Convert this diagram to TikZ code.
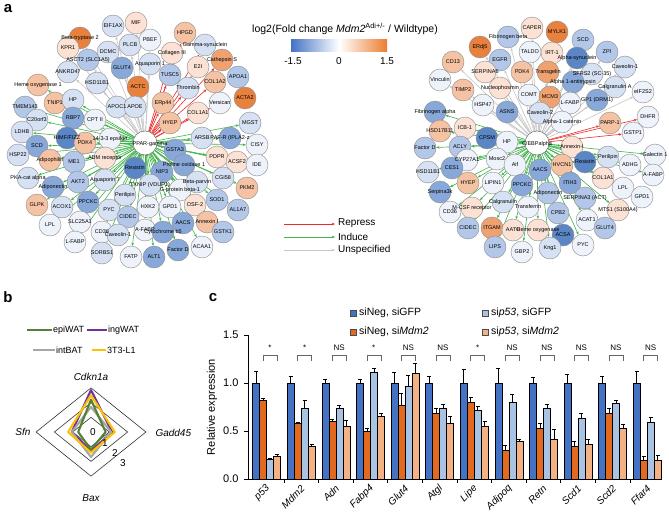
\documentclass[tikz,border=0pt]{standalone}
\usepackage{fontspec}
\setmainfont{Liberation Sans}
\usetikzlibrary{arrows.meta}
\pgfdeclarelayer{bg}
\pgfdeclarelayer{fg}
\pgfsetlayers{bg,main,fg}
\definecolor{nb3}{HTML}{5A86C5}
\definecolor{nb2}{HTML}{87A8D8}
\definecolor{nb1}{HTML}{B3C8E8}
\definecolor{nb0}{HTML}{D6E2F3}
\definecolor{nw}{HTML}{EEF2FA}
\definecolor{no0}{HTML}{FBE2D4}
\definecolor{no1}{HTML}{F5C3A3}
\definecolor{no2}{HTML}{EFA270}
\definecolor{no3}{HTML}{E9813E}
\definecolor{ered}{HTML}{EE2A2A}
\definecolor{egrn}{HTML}{3DB54A}
\definecolor{egry}{HTML}{C6C6C6}
\definecolor{cbB}{HTML}{4472C4}
\definecolor{cbO}{HTML}{ED7D31}
\definecolor{barB}{HTML}{4472C4}
\definecolor{barO}{HTML}{E3691E}
\definecolor{barLB}{HTML}{A9C3E5}
\definecolor{barLO}{HTML}{F4B183}
\definecolor{rgreen}{HTML}{548235}
\definecolor{rpurple}{HTML}{7030A0}
\definecolor{rgray}{HTML}{A6A6A6}
\definecolor{ryellow}{HTML}{FFC000}
\tikzset{
  cn/.style={circle,draw=black!45,line width=0.4pt,minimum size=22pt,inner sep=0pt},
  hubnode/.style={circle,draw=black!60,line width=0.5pt,fill=white,minimum size=24pt,inner sep=0pt},
  lab/.style={font=\fontsize{5.5}{6}\selectfont,inner sep=0pt},
  ed/.style={line width=0.6pt,-{Stealth[length=3.2pt,width=2.6pt]}},
  legtxt/.style={font=\fontsize{10}{11}\selectfont,anchor=west,inner sep=0pt},
  ring/.style={draw=black!80,line width=0.6pt},
  series/.style={line width=2.1pt,line join=round},
  panel/.style={font=\fontsize{15}{15}\selectfont\bfseries,inner sep=0pt}
}
\newcommand{\netnode}[5]{\node[cn,fill=#4] (#1) at (#2,#3) {};
  \begin{pgfonlayer}{fg}\node[lab] at (#2,#3) {#5};\end{pgfonlayer}}
\newcommand{\mybar}[4]{\filldraw[fill=#4,draw=black,line width=0.35pt] (#1-3.5,479) rectangle (#1+3.5,479-96*#2);
  \draw[line width=0.5pt] (#1,479-96*#2) -- (#1,479-96*#3) (#1-2,479-96*#3) -- (#1+2,479-96*#3);}
\begin{document}
\begin{tikzpicture}[x=1pt,y=-1pt]
\begin{pgfonlayer}{bg}
\fill[white] (0,0) rectangle (669,519);
\end{pgfonlayer}
\path[use as bounding box] (0,0) rectangle (669,519);
% ---------- panel labels
\node[panel] at (8,9) {a};
\node[panel] at (8,297) {b};
\node[panel] at (213,298) {c};
% ---------- colour bar
\node[font=\fontsize{10.5}{12}\selectfont] at (345,29) {log2(Fold change \textit{Mdm2}\textsuperscript{Adi+/-} / Wildtype)};
\shade[left color=cbB,right color=white] (291,40) rectangle (339,52);
\shade[left color=white,right color=cbO] (339,40) rectangle (387,52);
\node[font=\fontsize{10}{11}\selectfont] at (293,61) {-1.5};
\node[font=\fontsize{10}{11}\selectfont] at (339,61) {0};
\node[font=\fontsize{10}{11}\selectfont] at (387,61) {1.5};
% ---------- network legend
\coordinate (lg1a) at (284,224); \coordinate (lg1b) at (335,224);
\coordinate (lg2a) at (284,237); \coordinate (lg2b) at (335,237);
\coordinate (lg3a) at (284,250); \coordinate (lg3b) at (335,250);
\draw[ed,ered,line width=1pt] (lg1a) -- (lg1b);
\draw[ed,egrn,line width=1pt] (lg2a) -- (lg2b);
\draw[ed,egry,line width=1pt] (lg3a) -- (lg3b);
\node[legtxt] at (338,223) {Repress};
\node[legtxt] at (338,237) {Induce};
\node[legtxt] at (338,250) {Unspecified};
% ---------- left network
\node[hubnode] (hl) at (145,143) {};
\begin{pgfonlayer}{fg}\node[lab] at (150,144) {PPAR-gamma};\end{pgfonlayer}
\netnode{l1}{113}{26}{nb0}{EIF1AX}
\netnode{l2}{136}{23}{no0}{MIF}
\netnode{l3}{80}{38}{no3}{Beta-tryptase 2}
\netnode{l4}{68}{48}{no0}{KPR1}
\netnode{l5}{130}{45}{nb0}{PLCB}
\netnode{l6}{150}{40}{nw}{PBEF}
\netnode{l7}{108}{52}{nb0}{DCMC}
\netnode{l8}{88}{60}{nb1}{ASCT2 (SLC1A5)}
\netnode{l9}{122}{68}{nb2}{GLUT4}
\netnode{l10}{150}{64}{nb0}{Aquaporin 1}
\netnode{l11}{68}{72}{nb0}{ANKRD47}
\netnode{l12}{97}{83}{nb0}{HSD11B1}
\netnode{l13}{138}{87}{no3}{ACTC}
\netnode{l14}{117}{107}{nb0}{APOC1}
\netnode{l15}{135}{107}{nb0}{APOE}
\netnode{l16}{185}{33}{no1}{HPGD}
\netnode{l17}{205}{45}{nb0}{Gamma-synuclein}
\netnode{l18}{172}{53}{no0}{Collagen III}
\netnode{l19}{198}{67}{no0}{E2I}
\netnode{l20}{222}{60}{no2}{Cathepsin S}
\netnode{l21}{170}{75}{nb1}{TUSC5}
\netnode{l22}{215}{82}{no1}{COL1A2}
\netnode{l23}{188}{88}{nb0}{Thrombin}
\netnode{l24}{163}{103}{no1}{ERp44}
\netnode{l25}{220}{103}{nw}{Versican}
\netnode{l26}{198}{113}{no0}{COL1A1}
\netnode{l27}{170}{123}{no1}{HYEP}
\netnode{l28}{238}{77}{nb1}{APOA1}
\netnode{l29}{245}{98}{no3}{ACTA2}
\netnode{l30}{38}{85}{no1}{Heme oxygenase 1}
\netnode{l31}{25}{107}{nb1}{TMEM143}
\netnode{l32}{55}{103}{no1}{TNIP1}
\netnode{l33}{73}{100}{nb0}{HP}
\netnode{l34}{37}{120}{nb0}{C20orf3}
\netnode{l35}{73}{118}{nb2}{RBP7}
\netnode{l36}{95}{120}{nw}{CPT II}
\netnode{l37}{22}{132}{nb0}{LDHB}
\netnode{l38}{67}{138}{nb3}{HIMF/FIZZ}
\netnode{l39}{37}{146}{nb2}{SCD}
\netnode{l40}{85}{143}{no1}{PDK4}
\netnode{l41}{110}{139}{nw}{14-3-3 epsilon}
\netnode{l42}{18}{155}{nb0}{HSP22}
\netnode{l43}{50}{160}{no1}{Adipophilin}
\netnode{l44}{74}{162}{nb1}{ME1}
\netnode{l45}{105}{158}{no0}{ADM receptor}
\netnode{l46}{135}{168}{nb3}{Resistin}
\netnode{l47}{162}{172}{nb2}{NIP3}
\netnode{l48}{28}{178}{nb0}{PKA-cat alpha}
\netnode{l49}{53}{187}{nb2}{Adiponectin}
\netnode{l50}{78}{182}{nb1}{AKT2}
\netnode{l51}{105}{180}{nb0}{Aquaporin 7}
\netnode{l52}{150}{185}{nb0}{TXNIP (VDUP1)}
\netnode{l53}{180}{190}{nw}{G-protein beta-1}
\netnode{l54}{37}{205}{no1}{GLPK}
\netnode{l55}{62}{207}{nb0}{ACOX1}
\netnode{l56}{88}{202}{nb2}{PPCKC}
\netnode{l57}{125}{195}{nb0}{Perilipin}
\netnode{l58}{109}{210}{nb0}{PYC}
\netnode{l59}{128}{217}{nb1}{CIDEC}
\netnode{l60}{148}{207}{nw}{HXK2}
\netnode{l61}{170}{207}{nw}{GPD1}
\netnode{l62}{50}{225}{nw}{LPL}
\netnode{l63}{80}{222}{nw}{SLC25A1}
\netnode{l64}{102}{232}{nw}{CD36}
\netnode{l65}{118}{235}{nb0}{Caveolin-1}
\netnode{l66}{145}{230}{nw}{A-FABP}
\netnode{l67}{163}{232}{nb2}{Cytochrome b5}
\netnode{l68}{75}{242}{nw}{L-FABP}
\netnode{l69}{102}{253}{nb0}{SORBS1}
\netnode{l70}{131}{257}{nw}{FATP}
\netnode{l71}{154}{257}{nb2}{ALT1}
\netnode{l72}{178}{250}{nb2}{Factor D}
\netnode{l73}{202}{247}{nw}{ACAA1}
\netnode{l74}{250}{123}{nb0}{MGST}
\netnode{l75}{202}{138}{nb0}{ARSB}
\netnode{l76}{230}{138}{nb2}{PAF-R (IPLA2-z}
\netnode{l77}{257}{145}{nw}{CISY}
\netnode{l78}{175}{150}{nb2}{GSTA3}
\netnode{l79}{217}{157}{no0}{PDPR}
\netnode{l80}{237}{162}{no0}{ACSF2}
\netnode{l81}{257}{165}{nw}{IDE}
\netnode{l82}{184}{165}{nb2}{Proline oxidase 1}
\netnode{l83}{223}{178}{nb0}{CGI58}
\netnode{l84}{197}{182}{nb0}{Beta-parvin}
\netnode{l85}{247}{188}{no1}{PKM2}
\netnode{l86}{217}{200}{nb1}{SOD1}
\netnode{l87}{195}{205}{no0}{OSF-2}
\netnode{l88}{238}{210}{nb1}{AL1A7}
\netnode{l89}{183}{223}{nb2}{AACS}
\netnode{l90}{207}{222}{no1}{Annexin I}
\netnode{l91}{223}{232}{nb1}{GSTK1}
% ---------- right network
\node[hubnode] (hr) at (537,143) {};
\begin{pgfonlayer}{fg}\node[lab] at (537,144) {C/EBPalpha};\end{pgfonlayer}
\netnode{r1}{532}{28}{no0}{CAPER}
\netnode{r2}{557}{32}{no3}{MYLK1}
\netnode{r3}{508}{37}{nb1}{Fibrinogen beta}
\netnode{r4}{480}{47}{no3}{ERdj5}
\netnode{r5}{583}{40}{nb1}{SCD}
\netnode{r6}{530}{52}{nw}{TALDO}
\netnode{r7}{552}{53}{no0}{IRT-1}
\netnode{r8}{607}{52}{nb1}{ZPI}
\netnode{r9}{500}{60}{nb1}{EGFR}
\netnode{r10}{577}{58}{nb3}{Alpha-synuclein}
\netnode{r11}{453}{62}{no1}{CD13}
\netnode{r12}{625}{67}{nb0}{Caveolin-1}
\netnode{r13}{485}{72}{no0}{SERPINA6}
\netnode{r14}{522}{72}{no1}{PDK4}
\netnode{r15}{548}{72}{no2}{Transgelin}
\netnode{r16}{592}{74}{nb0}{SFRS2 (SC-35)}
\netnode{r17}{440}{80}{nw}{Vinculin}
\netnode{r18}{573}{82}{nb2}{Alpha 1-antitrypsin}
\netnode{r19}{615}{87}{nb0}{Calgranulin A}
\netnode{r20}{463}{90}{no1}{TIMP2}
\netnode{r21}{500}{88}{no0}{Nucleophosmin}
\netnode{r22}{529}{95}{nw}{COMT}
\netnode{r23}{550}{97}{no2}{MCM3}
\netnode{r24}{643}{92}{nw}{eIF2S2}
\netnode{r25}{483}{105}{nw}{HSP47}
\netnode{r26}{570}{103}{nw}{L-FABP}
\netnode{r27}{597}{100}{nb2}{GP1 (DRM1)}
\netnode{r28}{507}{112}{nb2}{ASNS}
\netnode{r29}{540}{113}{nb0}{Caveolin-2}
\netnode{r30}{562}{122}{nw}{Alpha-1 catenin}
\netnode{r31}{610}{123}{no1}{PARP-1}
\netnode{r32}{648}{117}{nw}{DHFR}
\netnode{r33}{633}{133}{nw}{GSTP1}
\netnode{r34}{435}{112}{nb2}{Fibrinogen alpha}
\netnode{r35}{440}{131}{no1}{HSD17B11}
\netnode{r36}{465}{128}{no0}{ICB-1}
\netnode{r37}{487}{138}{nb3}{CPSM}
\netnode{r38}{507}{142}{nw}{HP}
\netnode{r39}{572}{147}{no0}{Annexin-I}
\netnode{r40}{425}{148}{nb1}{Factor D}
\netnode{r41}{460}{147}{nb1}{ACLY}
\netnode{r42}{467}{160}{nw}{CYP27A1}
\netnode{r43}{497}{159}{nw}{Mosc2}
\netnode{r44}{608}{157}{nb0}{Perilipin}
\netnode{r45}{655}{155}{nw}{Galectin 1}
\netnode{r46}{585}{162}{nb3}{Resistin}
\netnode{r47}{562}{165}{no1}{HVCN1}
\netnode{r48}{428}{172}{nb0}{HSD11B1}
\netnode{r49}{452}{168}{nb2}{CES1}
\netnode{r50}{515}{165}{nw}{Aif}
\netnode{r51}{540}{170}{nb2}{AACS}
\netnode{r52}{630}{165}{nw}{ADHG}
\netnode{r53}{653}{175}{nw}{A-FABP}
\netnode{r54}{440}{192}{nb2}{Serpina3k}
\netnode{r55}{468}{183}{no1}{HYEP}
\netnode{r56}{493}{183}{nw}{LIPIN1}
\netnode{r57}{522}{185}{nb2}{PPCKC}
\netnode{r58}{548}{193}{nb1}{Adiponectin}
\netnode{r59}{570}{183}{nb2}{ITIH3}
\netnode{r60}{603}{178}{no0}{COL1A1}
\netnode{r61}{623}{188}{nw}{LPL}
\netnode{r62}{585}{198}{nb1}{SERPINA3 (ACT)}
\netnode{r63}{642}{197}{nw}{GPD1}
\netnode{r64}{450}{212}{nw}{CD36}
\netnode{r65}{472}{208}{no0}{M-CSF receptor}
\netnode{r66}{503}{202}{nb0}{Calgranulin}
\netnode{r67}{528}{207}{nw}{Transferrin}
\netnode{r68}{558}{213}{nb1}{CPB2}
\netnode{r69}{618}{210}{no0}{MTS1 (S100A4)}
\netnode{r70}{587}{220}{nw}{ACAT1}
\netnode{r71}{468}{228}{nb1}{CIDEC}
\netnode{r72}{492}{228}{no2}{ITGAM}
\netnode{r73}{513}{230}{no0}{AATC}
\netnode{r74}{538}{230}{no0}{Heme oxygenase}
\netnode{r75}{605}{228}{nb1}{GLUT4}
\netnode{r76}{563}{235}{nb3}{ACSA}
\netnode{r77}{583}{245}{nw}{PYC}
\netnode{r78}{495}{247}{nb1}{LIPS}
\netnode{r79}{522}{252}{nw}{GBP2}
\netnode{r80}{550}{248}{nb0}{Kng1}
% ---------- network edges
\begin{pgfonlayer}{bg}
\foreach \i in {1,...,15} \draw[ed,egry] (hl) -- (l\i);
\foreach \i in {16,...,27} \draw[ed,ered] (hl) -- (l\i);
\foreach \i in {30,...,91} \draw[ed,egrn] (hl) -- (l\i);
\foreach \i in {1,...,30} \draw[ed,egry] (hr) -- (r\i);
\foreach \i in {31,32,33} \draw[ed,ered] (hr) -- (r\i);
\foreach \i in {34,...,80} \draw[ed,egrn] (hr) -- (r\i);
\end{pgfonlayer}
% ---------- panel b legend
\coordinate (bl1a) at (27,330); \coordinate (bl1b) at (52,330);
\coordinate (bl2a) at (87,330); \coordinate (bl2b) at (107,330);
\coordinate (bl3a) at (33,350); \coordinate (bl3b) at (55,350);
\coordinate (bl4a) at (92,350); \coordinate (bl4b) at (106,350);
\draw[rgreen,line width=2.2pt] (bl1a) -- (bl1b);
\draw[rpurple,line width=2.2pt] (bl2a) -- (bl2b);
\draw[rgray,line width=2.2pt] (bl3a) -- (bl3b);
\draw[ryellow,line width=2.2pt] (bl4a) -- (bl4b);
\node[legtxt,font=\fontsize{9}{10}\selectfont] at (53,330) {epiWAT};
\node[legtxt,font=\fontsize{9}{10}\selectfont] at (108,330) {ingWAT};
\node[legtxt,font=\fontsize{9}{10}\selectfont] at (56,350) {intBAT};
\node[legtxt,font=\fontsize{9}{10}\selectfont] at (107,350) {3T3-L1};
% ---------- radar
\foreach \k in {1,2,3}
  \draw[ring] (91,432-14.7*\k) -- (91+18.3*\k,432) -- (91,432+14.7*\k) -- (91-18.3*\k,432) -- cycle;
\draw[series,rpurple] (91,432-14.7*2.85) -- (91+18.3*1.15,432) -- (91,432+14.7*1.3) -- (91-18.3*1.05,432) -- cycle;
\draw[series,rgray] (91,432-14.7*1.7) -- (91+18.3*1.1,432) -- (91,432+14.7*1.7) -- (91-18.3*1.05,432) -- cycle;
\draw[series,rgreen] (91,432-14.7*2.2) -- (91+18.3*0.8,432) -- (91,432+14.7*1.2) -- (91-18.3*0.7,432) -- cycle;
\draw[series,ryellow] (91,432-14.7*2.5) -- (91+18.3*1.3,432) -- (91,432+14.7*1.4) -- (91-18.3*1.25,432) -- cycle;
\node[font=\fontsize{10}{11}\selectfont] at (93,432) {0};
\node[font=\fontsize{10}{11}\selectfont] at (105,443) {1};
\node[font=\fontsize{10}{11}\selectfont] at (115,453) {2};
\node[font=\fontsize{10}{11}\selectfont] at (123,463) {3};
\node[font=\fontsize{10}{11}\selectfont\itshape] at (91,377) {Cdkn1a};
\node[font=\fontsize{10}{11}\selectfont\itshape] at (91,498) {Bax};
\node[font=\fontsize{10}{11}\selectfont\itshape,anchor=east] at (34,432) {Sfn};
\node[font=\fontsize{10}{11}\selectfont\itshape,anchor=west] at (152,433) {Gadd45};
% ---------- panel c legend
\filldraw[fill=barB,draw=black!70,line width=0.4pt] (350,310) rectangle (356,316);
\filldraw[fill=barO,draw=black!70,line width=0.4pt] (350,329) rectangle (356,335);
\filldraw[fill=barLB,draw=black!70,line width=0.4pt] (482,310) rectangle (488,316);
\filldraw[fill=barLO,draw=black!70,line width=0.4pt] (482,329) rectangle (488,335);
\node[legtxt,font=\fontsize{10.5}{12}\selectfont] at (359,313) {siNeg, siGFP};
\node[legtxt,font=\fontsize{10.5}{12}\selectfont] at (359,332) {siNeg, si\textit{Mdm2}};
\node[legtxt,font=\fontsize{10.5}{12}\selectfont] at (491,313) {si\textit{p53}, siGFP};
\node[legtxt,font=\fontsize{10.5}{12}\selectfont] at (491,332) {si\textit{p53}, si\textit{Mdm2}};
% ---------- bar chart axes
\draw[line width=0.6pt] (248,335) -- (248,479) -- (660,479);
\foreach \v/\t in {0/0.0,0.5/0.5,1/1.0,1.5/1.5} {
  \draw[line width=0.6pt] (244,479-96*\v) -- (248,479-96*\v);
  \node[anchor=east,font=\fontsize{11}{12}\selectfont] at (242,479-96*\v) {\t};
}
\node[rotate=90,font=\fontsize{11}{12}\selectfont] at (212,407) {Relative expression};
\foreach \i in {0,...,10} \draw[line width=0.6pt] (283.8+34.6*\i,479) -- (283.8+34.6*\i,483);
\foreach \i/\nm/\va/\ea/\vb/\eb/\vc/\ec/\vd/\ed/\sg in {
0/p53/1.0/1.12/0.82/0.84/0.21/0.22/0.24/0.26/*,
1/Mdm2/1.0/1.07/0.58/0.59/0.74/0.82/0.34/0.36/*,
2/Adn/1.0/1.04/0.60/0.62/0.74/0.77/0.55/0.61/NS,
3/Fabp4/1.0/1.04/0.50/0.53/1.11/1.15/0.65/0.68/*,
4/Glut4/1.0/1.11/0.77/0.89/0.97/1.08/1.10/1.21/NS,
5/Atgl/1.0/1.07/0.69/0.74/0.74/0.775/0.58/0.65/NS,
6/Lipe/1.0/1.14/0.80/0.85/0.72/0.76/0.55/0.60/*,
7/Adipoq/1.0/1.15/0.30/0.35/0.80/0.88/0.39/0.41/NS,
8/Retn/1.0/1.06/0.53/0.58/0.74/0.775/0.42/0.52/NS,
9/Scd1/1.0/1.09/0.34/0.39/0.63/0.68/0.36/0.41/NS,
10/Scd2/1.0/1.07/0.69/0.74/0.785/0.82/0.53/0.57/NS,
11/Ffar4/1.0/1.12/0.20/0.24/0.59/0.64/0.20/0.25/NS} {
  \pgfmathsetmacro\xa{256+34.6*\i}
  \pgfmathsetmacro\xb{\xa+7}
  \pgfmathsetmacro\xc{\xa+14}
  \pgfmathsetmacro\xd{\xa+21}
  \mybar{\xa}{\va}{\ea}{barB}
  \mybar{\xb}{\vb}{\eb}{barO}
  \mybar{\xc}{\vc}{\ec}{barLB}
  \mybar{\xd}{\vd}{\ed}{barLO}
  \draw[black!60,line width=0.6pt] (\xb,361) -- (\xb,355) -- (\xd,355) -- (\xd,361);
  \node[font=\fontsize{8}{9}\selectfont] at (\xc,348) {\sg};
  \node[rotate=45,anchor=east,font=\fontsize{10}{11}\selectfont\itshape,inner sep=1pt] at (\xa+13,486) {\nm};
}
\end{tikzpicture}
\end{document}
